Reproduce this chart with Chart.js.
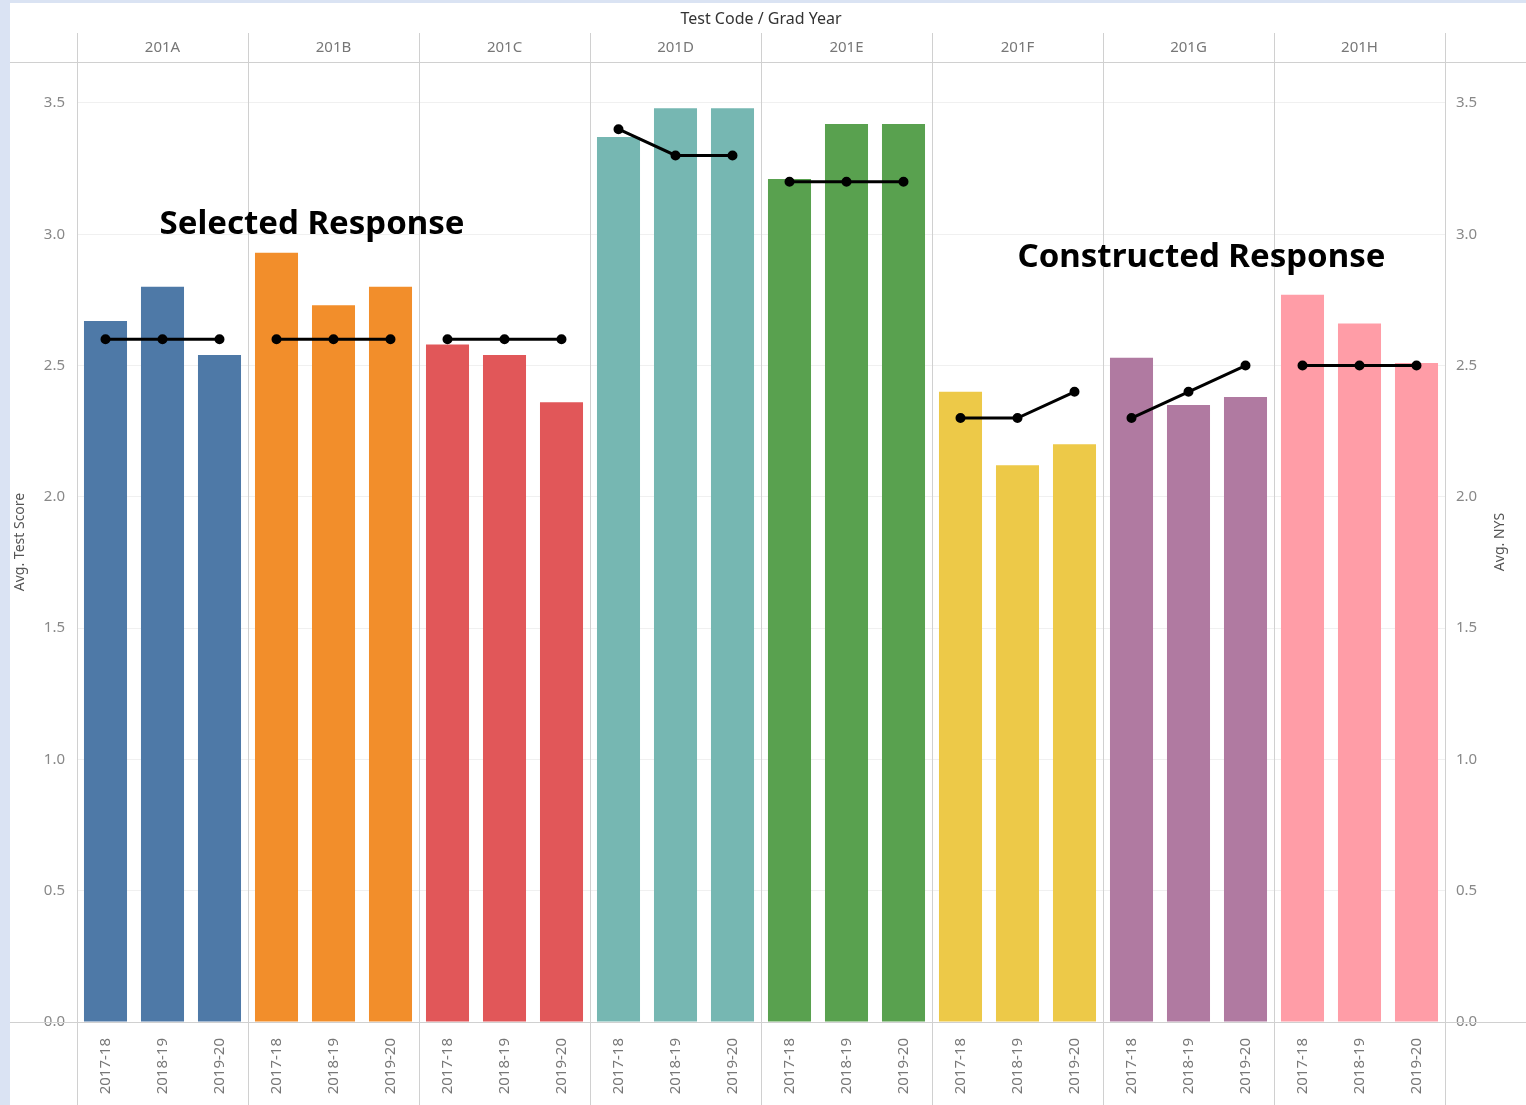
<!DOCTYPE html>
<html>
<head>
<meta charset="utf-8">
<script src="https://cdn.jsdelivr.net/npm/chart.js@4.4.1/dist/chart.umd.min.js"></script>
<style>
  html, body { margin: 0; padding: 0; background: #dae3f3; }
  #wrap { position: absolute; left: 10px; top: 3px; width: 1516px; height: 1102px; background: #fff; }
</style>
</head>
<body>
<div id="wrap"><canvas id="chart" width="1516" height="1102"></canvas></div>
<script>
// test codes and grad years
var groups = ['201A', '201B', '201C', '201D', '201E', '201F', '201G', '201H'];
var years = ['2017-18', '2018-19', '2019-20'];
// avg test score per code/year (bars)
var testScore = [
  2.67, 2.80, 2.54,
  2.93, 2.73, 2.80,
  2.58, 2.54, 2.36,
  3.37, 3.48, 3.48,
  3.21, 3.42, 3.42,
  2.40, 2.12, 2.20,
  2.53, 2.35, 2.38,
  2.77, 2.66, 2.51
];
// avg NYS per code/year (line)
var nysAvg = [
  2.6, 2.6, 2.6,
  2.6, 2.6, 2.6,
  2.6, 2.6, 2.6,
  3.4, 3.3, 3.3,
  3.2, 3.2, 3.2,
  2.3, 2.3, 2.4,
  2.3, 2.4, 2.5,
  2.5, 2.5, 2.5
];
var groupColors = ['#4e79a7', '#f28e2b', '#e15759', '#76b7b2', '#59a14f', '#edc948', '#b07aa1', '#ff9da7'];
var yTicks = [0, 0.5, 1, 1.5, 2, 2.5, 3, 3.5];

var labels = [];
var barColors = [];
groups.forEach((g, gi) => years.forEach(y => { labels.push(y); barColors.push(groupColors[gi]); }));

var tickFont = { family: 'Noto Sans', size: 15 };
var lineGray = '#d0d0d0';

var frame = {
  id: 'frame',
  beforeDatasetsDraw(chart) {
    var ctx = chart.ctx, a = chart.chartArea;
    ctx.save();
    ctx.strokeStyle = lineGray;
    ctx.lineWidth = 1;
    ctx.beginPath();
    // top and zero lines across the full width
    ctx.moveTo(0, Math.round(a.top) + 0.5); ctx.lineTo(chart.width, Math.round(a.top) + 0.5);
    ctx.moveTo(0, Math.round(a.bottom) + 0.5); ctx.lineTo(chart.width, Math.round(a.bottom) + 0.5);
    // group separators
    var step = (a.right - a.left) / labels.length;
    for (var i = 0; i <= groups.length; i++) {
      var px = Math.round(a.left + i * 3 * step) + 0.5;
      ctx.moveTo(px, 30); ctx.lineTo(px, chart.height);
    }
    ctx.stroke();
    ctx.restore();
  },
  afterDraw(chart) {
    var ctx = chart.ctx, a = chart.chartArea, x = chart.scales.x, y = chart.scales.y;
    ctx.save();
    ctx.fillStyle = '#333';
    ctx.font = '16px "Noto Sans"';
    ctx.textAlign = 'center';
    ctx.textBaseline = 'middle';
    ctx.fillText('Test Code / Grad Year', (a.left + a.right) / 2, 16);

    ctx.fillStyle = '#555';
    ctx.font = '14px "Noto Sans"';
    var mid = (a.top + a.bottom) / 2;
    [[10, 'Avg. Test Score'], [1490, 'Avg. NYS']].forEach(t => {
      ctx.save();
      ctx.translate(t[0], mid);
      ctx.rotate(-Math.PI / 2);
      ctx.fillText(t[1], 0, 0);
      ctx.restore();
    });

    ctx.fillStyle = '#000';
    ctx.font = 'bold 33px "Noto Sans"';
    ctx.textAlign = 'left';
    ctx.fillText('Selected Response', x.getPixelForValue(1) - 3, y.getPixelForValue(3.035));
    ctx.fillText('Constructed Response', x.getPixelForValue(16), y.getPixelForValue(2.91));
    ctx.restore();
  }
};

var chart = new Chart('chart', {
  data: {
    labels: labels,
    datasets: [
      {
        type: 'line',
        label: 'Avg. NYS',
        data: nysAvg,
        yAxisID: 'y2',
        borderColor: '#000',
        borderWidth: 3,
        pointRadius: 3.5,
        pointBackgroundColor: '#000',
        pointBorderColor: '#000',
        segment: { borderColor: c => c.p0DataIndex % 3 === 2 ? 'transparent' : '#000' },
        order: 0
      },
      {
        type: 'bar',
        label: 'Avg. Test Score',
        data: testScore,
        yAxisID: 'y',
        backgroundColor: barColors,
        barPercentage: 0.755,
        categoryPercentage: 1,
        order: 1
      }
    ]
  },
  options: {
    responsive: false,
    devicePixelRatio: 1,
    animation: false,
    layout: { padding: { top: 30 } },
    plugins: { legend: { display: false }, tooltip: { enabled: false } },
    scales: {
      x: {
        type: 'category',
        position: 'bottom',
        grid: { display: false },
        border: { display: false },
        ticks: { autoSkip: false, maxRotation: 90, minRotation: 90, padding: 8, color: '#777', font: tickFont },
        afterFit: s => { s.height = 83; }
      },
      x2: {
        type: 'category',
        position: 'top',
        labels: labels,
        offset: true,
        grid: { display: false },
        border: { display: false },
        ticks: {
          autoSkip: false, maxRotation: 0, padding: -3, color: '#777', font: tickFont,
          callback: (v, i) => i % 3 === 1 ? groups[(i - 1) / 3] : ''
        },
        afterFit: s => { s.height = 29; }
      },
      y: {
        position: 'left',
        min: 0, max: 3.656,
        afterBuildTicks: s => { s.ticks = yTicks.map(v => ({ value: v })); },
        grid: { color: c => c.tick && c.tick.value === 0 ? 'transparent' : '#f0f0f0', drawTicks: false },
        border: { display: false },
        ticks: { padding: 12, color: '#888', font: tickFont, callback: v => v.toFixed(1) },
        afterFit: s => { s.width = 67; }
      },
      y2: {
        position: 'right',
        min: 0, max: 3.656,
        afterBuildTicks: s => { s.ticks = yTicks.map(v => ({ value: v })); },
        grid: { display: false },
        border: { display: false },
        ticks: { padding: 3, color: '#888', font: tickFont, callback: v => v.toFixed(1) },
        afterFit: s => { s.width = 81; }
      }
    }
  },
  plugins: [frame]
});
</script>
</body>
</html>
